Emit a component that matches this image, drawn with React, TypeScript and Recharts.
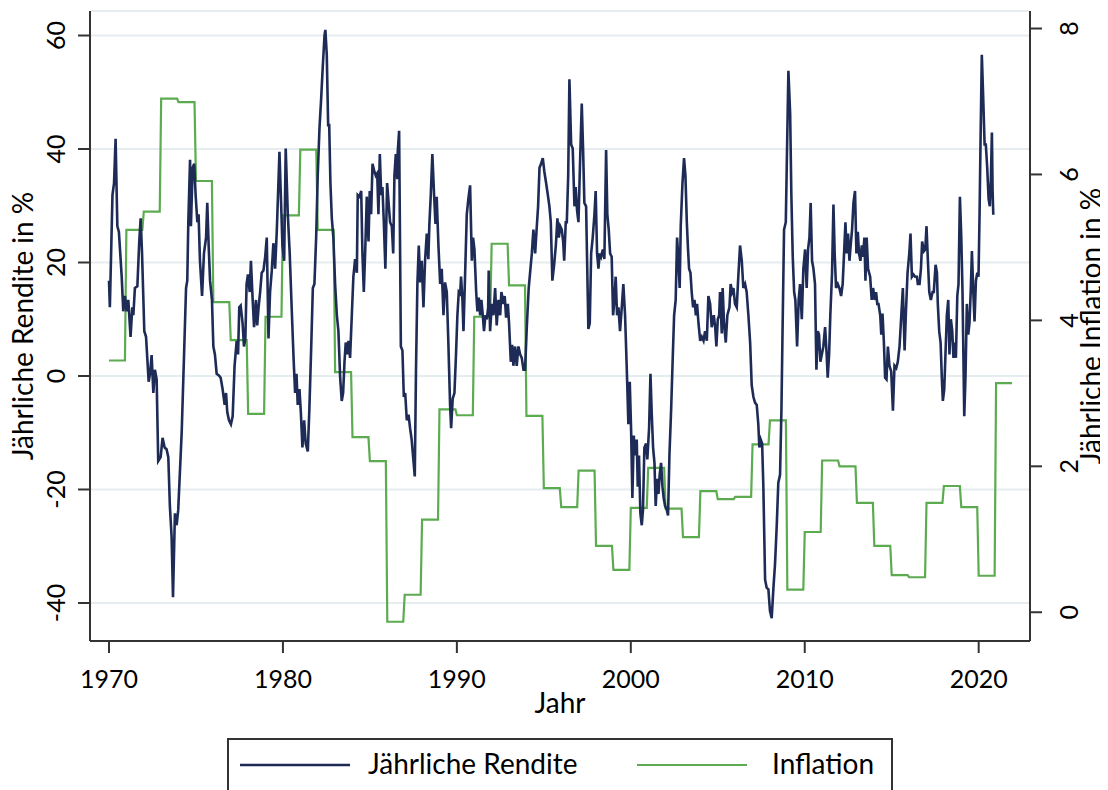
import React from 'react';
import { ComposedChart, Line, XAxis, YAxis, CartesianGrid } from 'recharts';

const FONT = 'Lato, "Noto Sans", sans-serif';
const BLUE = '#1d2b56';
const GREEN = '#5cab50';
const AXIS = '#333333';

const xTicks = [1970, 1980, 1990, 2000, 2010, 2020];
const retTicks = [-40, -20, 0, 20, 40, 60];
const infTicks = [0, 2, 4, 6, 8];

const inflationYears = [
  1970, 1971, 1972, 1973, 1974, 1975, 1976, 1977, 1978, 1979,
  1980, 1981, 1982, 1983, 1984, 1985, 1986, 1987, 1988, 1989,
  1990, 1991, 1992, 1993, 1994, 1995, 1996, 1997, 1998, 1999,
  2000, 2001, 2002, 2003, 2004, 2005, 2006, 2007, 2008, 2009,
  2010, 2011, 2012, 2013, 2014, 2015, 2016, 2017, 2018, 2019,
  2020, 2021,
];
const inflationValues = [
  3.45, 5.24, 5.49, 7.04, 6.99, 5.91, 4.25, 3.73, 2.72, 4.05,
  5.44, 6.34, 5.24, 3.29, 2.40, 2.07, -0.13, 0.24, 1.27, 2.78,
  2.70, 4.05, 5.05, 4.48, 2.69, 1.70, 1.44, 1.94, 0.91, 0.58,
  1.43, 1.98, 1.42, 1.03, 1.66, 1.55, 1.58, 2.30, 2.63, 0.31,
  1.10, 2.08, 2.00, 1.50, 0.91, 0.51, 0.48, 1.50, 1.73, 1.44,
  0.50, 3.14,
];

const ret1970s: [number, number][] = [
  [1970.0, 16.8], [1970.05, 12.1], [1970.2, 31.9], [1970.29, 34.0], [1970.38, 41.8], [1970.48, 26.4],
  [1970.57, 25.4], [1970.73, 17.5], [1970.82, 11.4], [1970.92, 14.1], [1971.01, 11.4], [1971.11, 13.4],
  [1971.24, 6.9], [1971.34, 12.1], [1971.4, 10.7], [1971.49, 15.5], [1971.63, 15.8], [1971.74, 23.7],
  [1971.82, 27.8], [1971.9, 21.6], [1972.03, 7.9], [1972.13, 6.9], [1972.28, -1.0], [1972.36, 0.4],
  [1972.45, 3.7], [1972.55, -3.0], [1972.64, 1.1], [1972.74, -0.6], [1972.83, -15.0], [1972.97, -14.3],
  [1973.08, -10.9], [1973.2, -12.6], [1973.31, -12.9], [1973.41, -14.3], [1973.5, -22.9], [1973.6, -28.4],
  [1973.68, -39.0], [1973.79, -24.2], [1973.89, -26.3], [1973.98, -23.6], [1974.18, -9.9], [1974.31, 3.2],
  [1974.43, 15.5], [1974.5, 16.8], [1974.56, 27.1], [1974.66, 38.1], [1974.71, 26.4], [1974.81, 36.7],
  [1974.9, 37.4], [1974.98, 31.9], [1975.08, 27.1], [1975.15, 28.5], [1975.23, 20.3], [1975.35, 14.1],
  [1975.46, 21.6], [1975.58, 24.4], [1975.65, 30.5], [1975.73, 23.0], [1975.81, 16.8], [1975.92, 13.4],
  [1976.0, 5.2], [1976.09, 3.8], [1976.19, 0.4], [1976.32, 0.1], [1976.42, -0.3], [1976.53, -2.3],
  [1976.65, -5.1], [1976.73, -3.0], [1976.8, -6.4], [1976.9, -7.8], [1977.01, -8.5], [1977.11, -7.1],
  [1977.22, 1.8], [1977.34, 6.2], [1977.42, 3.8], [1977.49, 12.1], [1977.57, 12.4], [1977.68, 9.3],
  [1977.76, 5.2], [1977.84, 6.6], [1977.91, 16.2], [1977.99, 17.9], [1978.09, 14.8], [1978.16, 20.3],
  [1978.26, 13.4], [1978.34, 8.6], [1978.45, 13.4], [1978.52, 8.9], [1978.6, 12.1], [1978.69, 14.8],
  [1978.78, 18.2], [1978.88, 18.6], [1978.98, 21.0], [1979.07, 24.4], [1979.17, 6.6], [1979.26, 14.8],
  [1979.36, 18.6], [1979.45, 23.4], [1979.55, 18.9], [1979.65, 25.8], [1979.74, 34.0], [1979.8, 39.5],
  [1979.9, 29.9], [1979.97, 23.0],
];

const ret1980s: [number, number][] = [
  [1980.07, 20.3], [1980.16, 40.1], [1980.28, 28.5], [1980.39, 21.6], [1980.51, 11.4], [1980.62, 2.5],
  [1980.7, -3.0], [1980.78, 0.4], [1980.85, -5.1], [1980.95, -2.3], [1981.03, -6.4], [1981.12, -12.6],
  [1981.22, -7.8], [1981.31, -11.9], [1981.43, -13.3], [1981.52, -5.8], [1981.62, 4.5], [1981.72, 15.5],
  [1981.81, 16.2], [1981.91, 24.4], [1982.0, 35.3], [1982.1, 43.6], [1982.2, 49.0], [1982.29, 54.5],
  [1982.39, 60.0], [1982.44, 61.0], [1982.52, 56.6], [1982.6, 44.2], [1982.66, 44.2], [1982.73, 34.0],
  [1982.81, 27.8], [1982.9, 24.4], [1983.0, 16.2], [1983.1, 10.7], [1983.19, 7.9], [1983.29, -0.3],
  [1983.38, -4.4], [1983.46, -3.0], [1983.54, 2.5], [1983.61, 5.9], [1983.69, 3.8], [1983.77, 6.2],
  [1983.86, 3.2], [1983.96, 10.7], [1984.05, 17.5], [1984.15, 20.6], [1984.25, 18.2], [1984.3, 31.9],
  [1984.4, 31.6], [1984.5, 32.6], [1984.57, 21.6], [1984.65, 14.8], [1984.74, 23.0], [1984.82, 31.6],
  [1984.92, 23.7], [1984.99, 32.6], [1985.07, 28.5], [1985.15, 37.4], [1985.26, 36.0], [1985.34, 35.3],
  [1985.42, 35.7], [1985.49, 28.5], [1985.57, 39.1], [1985.65, 31.9], [1985.72, 33.3], [1985.8, 27.1],
  [1985.89, 18.9], [1985.99, 34.0], [1986.09, 29.9], [1986.16, 27.1], [1986.26, 26.4], [1986.34, 21.6],
  [1986.41, 35.3], [1986.49, 39.1], [1986.57, 34.7], [1986.6, 39.5], [1986.68, 43.2], [1986.78, 5.2],
  [1986.87, 4.5], [1986.95, -3.7], [1987.03, -3.0], [1987.12, -7.8], [1987.22, -6.8], [1987.31, -9.2],
  [1987.4, -11.2], [1987.58, -17.7], [1987.65, 1.1], [1987.73, 16.2], [1987.81, 23.0], [1987.89, 16.5],
  [1987.98, 20.3], [1988.08, 12.1], [1988.17, 20.3], [1988.27, 25.1], [1988.36, 20.6], [1988.42, 26.8],
  [1988.5, 31.9], [1988.59, 39.1], [1988.69, 31.9], [1988.77, 26.8], [1988.84, 31.6], [1988.94, 23.0],
  [1989.04, 16.2], [1989.13, 18.9], [1989.23, 10.7], [1989.32, 16.5], [1989.42, 14.8], [1989.51, 5.9],
  [1989.61, -5.1], [1989.67, -9.2], [1989.76, -4.0], [1989.86, -3.0], [1989.95, 3.8],
];

const ret1990s: [number, number][] = [
  [1990.03, 10.7], [1990.11, 14.8], [1990.19, 14.5], [1990.24, 17.5], [1990.32, 13.4], [1990.38, 7.9],
  [1990.47, 17.5], [1990.57, 28.5], [1990.66, 31.2], [1990.76, 33.6], [1990.86, 20.3], [1990.93, 24.4],
  [1991.01, 22.3], [1991.11, 14.8], [1991.18, 11.4], [1991.26, 13.8], [1991.34, 10.7], [1991.41, 13.4],
  [1991.49, 10.7], [1991.56, 7.9], [1991.64, 10.7], [1991.72, 10.0], [1991.8, 12.1], [1991.83, 18.6],
  [1991.91, 7.9], [1992.01, 12.7], [1992.1, 10.7], [1992.2, 15.5], [1992.29, 8.9], [1992.39, 13.4],
  [1992.49, 10.7], [1992.56, 14.8], [1992.68, 12.7], [1992.75, 14.1], [1992.83, 10.3], [1992.93, 12.7],
  [1993.0, 9.3], [1993.1, 2.5], [1993.18, 5.5], [1993.25, 1.8], [1993.35, 5.2], [1993.44, 1.8],
  [1993.54, 5.2], [1993.64, 3.8], [1993.73, 3.2], [1993.83, 1.1], [1993.92, 1.1], [1994.02, 8.6],
  [1994.13, 15.5], [1994.21, 18.2], [1994.31, 21.6], [1994.4, 25.8], [1994.5, 21.6], [1994.59, 26.1],
  [1994.67, 29.9], [1994.75, 36.7], [1994.84, 37.4], [1994.94, 38.4], [1995.03, 36.0], [1995.13, 34.0],
  [1995.23, 31.9], [1995.32, 29.9], [1995.4, 27.1], [1995.49, 16.8], [1995.59, 19.6], [1995.69, 23.0],
  [1995.78, 27.8], [1995.86, 24.4], [1995.94, 26.4], [1996.03, 25.8], [1996.11, 23.7], [1996.17, 20.3],
  [1996.26, 27.1], [1996.32, 27.1], [1996.4, 35.3], [1996.47, 52.3], [1996.57, 40.8], [1996.66, 40.1],
  [1996.76, 29.9], [1996.83, 33.3], [1996.91, 29.2], [1996.99, 27.1], [1997.08, 37.4], [1997.18, 48.0],
  [1997.26, 39.5], [1997.33, 30.5], [1997.43, 29.9], [1997.5, 18.2], [1997.56, 8.3], [1997.64, 9.3],
  [1997.72, 21.6], [1997.81, 24.4], [1997.91, 28.5], [1997.98, 32.6], [1998.06, 21.6], [1998.14, 18.9],
  [1998.21, 21.6], [1998.29, 21.0], [1998.39, 22.3], [1998.48, 20.6], [1998.58, 39.8], [1998.65, 28.5],
  [1998.73, 25.8], [1998.81, 21.6], [1998.9, 21.0], [1998.98, 10.7], [1999.06, 13.4], [1999.13, 17.5],
  [1999.21, 10.7], [1999.29, 12.1], [1999.38, 7.9], [1999.48, 12.1], [1999.57, 16.2], [1999.67, 10.7],
  [1999.77, 1.1], [1999.86, -8.5], [1999.94, -1.0],
];

const ret2000s: [number, number][] = [
  [2000.02, -9.9], [2000.09, -21.5], [2000.17, -10.5], [2000.25, -14.0], [2000.34, -11.2], [2000.4, -19.5],
  [2000.47, -14.0], [2000.55, -24.2], [2000.63, -26.3], [2000.7, -23.6], [2000.78, -12.6], [2000.88, -11.9],
  [2000.95, -14.7], [2001.05, -9.2], [2001.13, 0.4], [2001.2, -6.4], [2001.28, -12.6], [2001.36, -15.3],
  [2001.43, -22.9], [2001.51, -18.1], [2001.59, -20.8], [2001.66, -17.4], [2001.74, -15.3], [2001.82, -19.5],
  [2001.89, -21.5], [2001.97, -22.9], [2002.07, -23.6], [2002.14, -24.6], [2002.22, -14.0], [2002.32, -5.8],
  [2002.41, 3.2], [2002.49, 10.7], [2002.58, 13.4], [2002.66, 24.4], [2002.74, 20.3], [2002.81, 15.5],
  [2002.87, 26.4], [2002.97, 34.0], [2003.06, 38.4], [2003.14, 35.3], [2003.22, 27.1], [2003.29, 22.3],
  [2003.35, 18.9], [2003.43, 18.2], [2003.5, 14.8], [2003.58, 12.1], [2003.66, 13.4], [2003.74, 10.7],
  [2003.81, 12.7], [2003.89, 9.3], [2003.99, 6.2], [2004.08, 6.9], [2004.18, 6.2], [2004.27, 7.9],
  [2004.37, 6.2], [2004.46, 14.1], [2004.56, 12.7], [2004.65, 8.6], [2004.77, 10.7], [2004.85, 8.6],
  [2004.92, 5.2], [2005.0, 10.0], [2005.08, 10.7], [2005.13, 14.8], [2005.23, 7.5], [2005.28, 15.5],
  [2005.36, 9.3], [2005.46, 5.9], [2005.55, 10.7], [2005.67, 12.1], [2005.74, 16.2], [2005.82, 14.8],
  [2005.9, 15.5], [2005.99, 12.7], [2006.09, 12.1], [2006.18, 17.5], [2006.28, 23.0], [2006.38, 20.3],
  [2006.47, 15.5], [2006.57, 16.2], [2006.66, 14.8], [2006.76, 10.7], [2006.86, 5.9], [2006.95, -1.6],
  [2007.05, -3.7], [2007.14, -4.7], [2007.24, -5.1], [2007.33, -8.5], [2007.39, -12.6], [2007.47, -11.2],
  [2007.55, -11.9], [2007.62, -19.5], [2007.72, -35.9], [2007.81, -37.3], [2007.91, -37.6], [2008.0, -41.4],
  [2008.1, -42.7], [2008.2, -37.3], [2008.29, -33.2], [2008.39, -26.3], [2008.48, -18.8], [2008.58, -17.4],
  [2008.66, -5.8], [2008.73, 9.3], [2008.81, 25.8], [2008.91, 27.1], [2008.96, 36.0], [2009.06, 53.8],
  [2009.16, 46.3], [2009.23, 31.9], [2009.31, 21.0], [2009.39, 14.8], [2009.46, 13.4], [2009.56, 5.2],
  [2009.65, 13.4], [2009.73, 16.2], [2009.83, 10.0], [2009.92, 18.9],
];

const ret2010s: [number, number][] = [
  [2010.02, 22.3], [2010.11, 15.5], [2010.19, 22.3], [2010.27, 24.4], [2010.34, 30.5], [2010.42, 20.3],
  [2010.5, 18.9], [2010.59, 16.2], [2010.67, 1.1], [2010.75, 7.9], [2010.82, 7.3], [2010.9, 2.5],
  [2010.98, 3.8], [2011.07, 5.2], [2011.17, 8.6], [2011.26, 3.8], [2011.32, -0.3], [2011.4, 3.8],
  [2011.47, 10.7], [2011.57, 18.2], [2011.65, 30.2], [2011.72, 21.6], [2011.8, 15.5], [2011.9, 16.2],
  [2011.99, 15.5], [2012.09, 14.1], [2012.18, 16.2], [2012.26, 21.6], [2012.34, 27.1], [2012.41, 21.6],
  [2012.49, 25.1], [2012.57, 20.3], [2012.64, 23.0], [2012.72, 25.8], [2012.8, 30.5], [2012.89, 32.6],
  [2012.97, 21.6], [2013.05, 25.4], [2013.12, 21.6], [2013.2, 20.3], [2013.28, 23.0], [2013.35, 21.0],
  [2013.43, 24.4], [2013.49, 16.8], [2013.56, 24.4], [2013.64, 18.9], [2013.76, 17.5], [2013.85, 13.4],
  [2013.93, 15.5], [2014.02, 13.4], [2014.1, 14.8], [2014.17, 12.7], [2014.24, 12.7], [2014.34, 10.7],
  [2014.4, 7.3], [2014.47, 11.0], [2014.55, 5.9], [2014.62, -0.3], [2014.7, -0.6], [2014.78, 5.2],
  [2014.87, 1.8], [2014.97, 0.8], [2015.07, -6.1], [2015.16, 1.8], [2015.26, 1.4], [2015.35, 2.5],
  [2015.45, 5.2], [2015.55, 10.7], [2015.64, 15.5], [2015.74, 4.5], [2015.81, 10.7], [2015.91, 18.2],
  [2016.01, 21.6], [2016.08, 25.1], [2016.16, 17.5], [2016.25, 17.9], [2016.35, 17.5], [2016.45, 17.5],
  [2016.5, 16.2], [2016.6, 16.2], [2016.68, 18.9], [2016.75, 23.7], [2016.85, 22.0], [2016.93, 22.3],
  [2017.0, 26.4], [2017.08, 20.3], [2017.16, 14.8], [2017.25, 13.4], [2017.35, 14.8], [2017.42, 14.8],
  [2017.52, 19.6], [2017.6, 18.2], [2017.65, 12.7], [2017.73, 7.9], [2017.81, 5.9], [2017.88, -0.3],
  [2017.94, -4.4], [2018.02, -2.3], [2018.09, 3.8], [2018.17, 10.7], [2018.25, 13.4], [2018.32, 3.8],
  [2018.4, 10.0], [2018.48, 7.9], [2018.55, 3.2], [2018.61, 5.9], [2018.69, 3.2], [2018.77, 14.1],
  [2018.84, 16.2], [2018.92, 31.6], [2019.0, 24.4], [2019.07, 14.8], [2019.17, -7.1], [2019.24, -0.3],
  [2019.32, 12.7], [2019.4, 7.3], [2019.47, 9.3], [2019.55, 15.5], [2019.61, 22.0], [2019.69, 14.8],
  [2019.76, 9.6], [2019.84, 16.8], [2019.92, 18.2], [2019.99, 17.5],
];

const ret2020s: [number, number][] = [
  [2020.05, 28.5], [2020.11, 42.2], [2020.18, 56.6], [2020.26, 49.0], [2020.34, 40.8], [2020.41, 40.8],
  [2020.49, 36.7], [2020.57, 31.2], [2020.64, 29.9], [2020.7, 34.7], [2020.76, 42.9], [2020.8, 32.6],
  [2020.84, 28.4],
];

type Row = { t: number; ret?: number; inf?: number };

const returnRows: Row[] = [...ret1970s, ...ret1980s, ...ret1990s, ...ret2000s, ...ret2010s, ...ret2020s].map(
  ([t, v]) => ({ t, ret: v })
);
const inflationRows: Row[] = inflationYears.flatMap((y, i) => [
  { t: y, inf: inflationValues[i] },
  { t: y + 11 / 12, inf: inflationValues[i] },
]);
const chartData: Row[] = [...returnRows, ...inflationRows].sort((a, b) => a.t - b.t);

const FS = 25;
const FS_TEXT = 28;

const LeftTick = (props: any) => {
  const { y, payload } = props;
  const bx = 65;
  return (
    <text x={bx} y={y} transform={`rotate(-90 ${bx} ${y})`} textAnchor="middle" fontFamily={FONT} fontSize={FS} fill="#000">
      {payload.value}
    </text>
  );
};

const RightTick = (props: any) => {
  const { y, payload } = props;
  const bx = 1078;
  return (
    <text x={bx} y={y} transform={`rotate(-90 ${bx} ${y})`} textAnchor="middle" fontFamily={FONT} fontSize={FS} fill="#000">
      {payload.value}
    </text>
  );
};

const BottomTick = (props: any) => {
  const { x, payload } = props;
  return (
    <text x={x} y={688} textAnchor="middle" fontFamily={FONT} fontSize={FS} fill="#000">
      {payload.value}
    </text>
  );
};

const LeftTitle = () => (
  <text x={33} y={326} transform="rotate(-90 33 326)" textAnchor="middle" fontFamily={FONT} fontSize={FS_TEXT} fill="#000">
    Jährliche Rendite in %
  </text>
);
const RightTitle = () => (
  <text x={1101} y={326} transform="rotate(-90 1101 326)" textAnchor="middle" fontFamily={FONT} fontSize={FS_TEXT} fill="#000">
    Jährliche Inflation in %
  </text>
);
const BottomTitle = () => (
  <text x={560} y={713} textAnchor="middle" fontFamily={FONT} fontSize={FS_TEXT} fill="#000">
    Jahr
  </text>
);

const LegendBox = () => (
  <div
    style={{
      position: 'absolute',
      left: 227,
      top: 738,
      width: 666,
      height: 80,
      border: `2px solid ${AXIS}`,
      boxSizing: 'border-box',
      background: '#fff',
    }}
  >
    <svg width={662} height={76} style={{ display: 'block' }}>
      <line x1={11} x2={121} y1={25} y2={25} stroke={BLUE} strokeWidth={2.6} />
      <text x={139} y={34} fontFamily={FONT} fontSize={FS_TEXT} fill="#000">Jährliche Rendite</text>
      <line x1={408} x2={518} y1={25} y2={25} stroke={GREEN} strokeWidth={2.2} />
      <text x={543} y={34} fontFamily={FONT} fontSize={FS_TEXT} fill="#000">Inflation</text>
    </svg>
  </div>
);

export default function App() {
  return (
    <div style={{ position: 'relative', width: 1108, height: 798, margin: -8, background: '#fff', overflow: 'hidden' }}>
      <ComposedChart width={1108} height={721} data={chartData} margin={{ top: 11, right: 0, bottom: 0, left: 0 }}>
        <CartesianGrid yAxisId="left" vertical={false} stroke="#e6edf0" strokeWidth={2} />
        <XAxis
          dataKey="t"
          type="number"
          domain={[1968.908, 2022.95]}
          allowDataOverflow
          ticks={xTicks}
          height={80}
          tickSize={12}
          axisLine={{ stroke: AXIS, strokeWidth: 2 }}
          tickLine={{ stroke: AXIS, strokeWidth: 2 }}
          tick={<BottomTick />}
          label={<BottomTitle />}
        />
        <YAxis
          yAxisId="left"
          orientation="left"
          type="number"
          domain={[-46.7, 64.32]}
          allowDataOverflow
          ticks={retTicks}
          width={90}
          tickSize={12}
          axisLine={{ stroke: AXIS, strokeWidth: 2 }}
          tickLine={{ stroke: AXIS, strokeWidth: 2 }}
          tick={<LeftTick />}
          label={<LeftTitle />}
        />
        <YAxis
          yAxisId="right"
          orientation="right"
          type="number"
          domain={[-0.394, 8.24]}
          allowDataOverflow
          ticks={infTicks}
          width={78}
          tickSize={12}
          axisLine={{ stroke: AXIS, strokeWidth: 2 }}
          tickLine={{ stroke: AXIS, strokeWidth: 2 }}
          tick={<RightTick />}
          label={<RightTitle />}
        />
        <Line
          yAxisId="right"
          dataKey="inf"
          type="linear"
          stroke={GREEN}
          strokeWidth={2.2}
          dot={false}
          activeDot={false}
          connectNulls
          isAnimationActive={false}
        />
        <Line
          yAxisId="left"
          dataKey="ret"
          type="linear"
          stroke={BLUE}
          strokeWidth={2.6}
          dot={false}
          activeDot={false}
          connectNulls
          isAnimationActive={false}
        />
      </ComposedChart>
      <LegendBox />
    </div>
  );
}
